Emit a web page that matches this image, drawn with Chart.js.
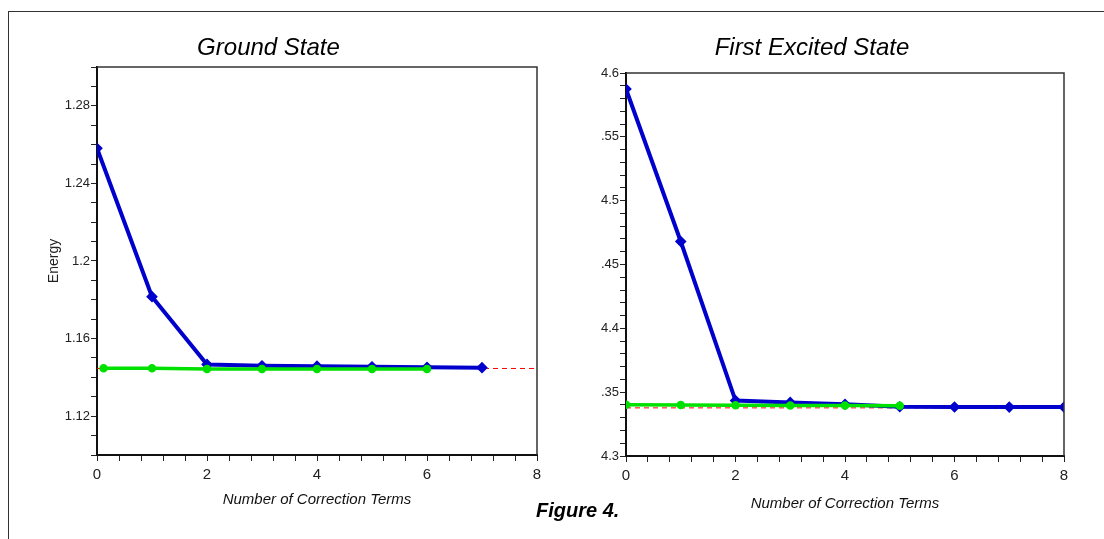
<!DOCTYPE html>
<html>
<head>
<meta charset="utf-8">
<script src="https://cdn.jsdelivr.net/npm/chart.js@4.4.1/dist/chart.umd.min.js"></script>
<style>
  body { margin: 0; background: #fff; width: 1104px; height: 539px; overflow: hidden; position: relative; }
  #frame { position: absolute; left: 8px; top: 11px; right: 0; bottom: 0; border-top: 1px solid #333; border-left: 1px solid #333; }
  #ground { position: absolute; left: 0; top: 0; }
  #excited { position: absolute; left: 560px; top: 0; }
  #caption { position: absolute; left: 536px; top: 499px; font: italic bold 20px 'Liberation Sans', Arial, sans-serif; color: #000; }
</style>
</head>
<body>
<div id="frame"></div>
<canvas id="ground" width="560" height="539"></canvas>
<canvas id="excited" width="544" height="539"></canvas>
<div id="caption">Figure 4.</div>
<script>
// ground state
var groundBlueX = [0, 1, 2, 3, 4, 5, 6, 7];
var groundBlueY = [1.2581, 1.1816, 1.1467, 1.1460, 1.1458, 1.1455, 1.1452, 1.1450];
var groundGreenX = [0.12, 1, 2, 3, 4, 5, 6];
var groundGreenY = [1.1447, 1.1447, 1.1443, 1.1443, 1.1443, 1.1443, 1.1443];
var groundRedX = [0, 8];
var groundRedY = [1.1446, 1.1446];

// first excited state
var excitedBlueX = [0, 1, 2, 3, 4, 5, 6, 7, 8];
var excitedBlueY = [4.5875, 4.468, 4.3434, 4.3420, 4.3405, 4.3386, 4.3384, 4.3383, 4.3383];
var excitedGreenX = [0, 1, 2, 3, 4, 5];
var excitedGreenY = [4.3402, 4.3400, 4.3398, 4.3396, 4.3395, 4.3394];
var excitedRedX = [0, 8];
var excitedRedY = [4.3377, 4.3377];

var xLabels = [0, 2, 4, 6, 8];
var groundYLabels = [1.12, 1.16, 1.2, 1.24, 1.28];
var excitedYLabels = { '4.3': '4.3', '4.35': '.35', '4.4': '4.4', '4.45': '.45', '4.5': '4.5', '4.55': '.55', '4.6': '4.6' };

var tickFont = "'Liberation Sans Narrow', 'Arial Narrow', 'Liberation Sans', Arial, sans-serif";
var textFont = "'Liberation Sans', Arial, sans-serif";

function toPoints(xs, ys) {
  var pts = [];
  for (var i = 0; i < xs.length; i++) {
    pts.push({ x: xs[i], y: ys[i] });
  }
  return pts;
}

// draws the top and right edges of the plot box
var boxPlugin = {
  id: 'box',
  afterDraw: function(chart) {
    var a = chart.chartArea;
    var ctx = chart.ctx;
    ctx.save();
    ctx.strokeStyle = '#333';
    ctx.lineWidth = 1.5;
    ctx.beginPath();
    ctx.moveTo(a.left, a.top);
    ctx.lineTo(a.right, a.top);
    ctx.lineTo(a.right, a.bottom);
    ctx.stroke();
    ctx.restore();
  }
};

function makeDatasets(blue, green, red) {
  return [
    {
      data: green,
      borderColor: 'rgb(0,225,0)',
      backgroundColor: 'rgb(0,215,0)',
      borderWidth: 3.5,
      pointRadius: 2.5,
      pointStyle: 'circle',
      order: 1
    },
    {
      data: blue,
      borderColor: 'rgb(0,0,205)',
      backgroundColor: 'rgb(0,0,205)',
      borderWidth: 4,
      pointRadius: 3,
      pointStyle: 'rectRot',
      order: 2
    },
    {
      data: red,
      borderColor: 'rgb(255,0,0)',
      borderWidth: 1,
      borderDash: [5, 4],
      pointRadius: 0,
      order: 3
    }
  ];
}

function xScale(height, titleBottom) {
  return {
    type: 'linear',
    min: 0,
    max: 8,
    afterFit: function(scale) { scale.height = height; },
    ticks: {
      stepSize: 0.4,
      autoSkip: false,
      maxRotation: 0,
      padding: 5,
      color: '#222',
      font: { family: tickFont, size: 15 },
      callback: function(v) {
        for (var i = 0; i < xLabels.length; i++) {
          if (Math.abs(v - xLabels[i]) < 1e-6) return String(xLabels[i]);
        }
        return '';
      }
    },
    grid: { drawOnChartArea: false, tickLength: 6, tickColor: '#222' },
    border: { color: '#111', width: 2 },
    title: {
      display: true,
      text: 'Number of Correction Terms',
      color: '#111',
      font: { family: textFont, size: 15, style: 'italic' },
      padding: { top: 0, bottom: titleBottom }
    }
  };
}

new Chart(document.getElementById('ground'), {
  type: 'line',
  data: {
    datasets: makeDatasets(
      toPoints(groundBlueX, groundBlueY),
      toPoints(groundGreenX, groundGreenY),
      toPoints(groundRedX, groundRedY)
    )
  },
  plugins: [boxPlugin],
  options: {
    responsive: false,
    animation: false,
    devicePixelRatio: 1,
    layout: { padding: { left: 0, right: 23, top: 0, bottom: 0 } },
    plugins: {
      legend: { display: false },
      tooltip: { enabled: false },
      title: {
        display: true,
        text: 'Ground State',
        color: '#000',
        font: { family: textFont, size: 24, style: 'italic', weight: 'normal' },
        padding: { top: 33.6, bottom: 4.6 }
      }
    },
    scales: {
      x: xScale(84, 30.4),
      y: {
        min: 1.1,
        max: 1.3,
        afterFit: function(scale) { scale.width = 97; },
        ticks: {
          stepSize: 0.01,
          autoSkip: false,
          padding: 1,
          color: '#222',
          font: { family: tickFont, size: 13 },
          callback: function(v) {
            for (var i = 0; i < groundYLabels.length; i++) {
              if (Math.abs(v - groundYLabels[i]) < 1e-6) return String(groundYLabels[i]);
            }
            return '';
          }
        },
        grid: { drawOnChartArea: false, tickLength: 6, tickColor: '#222' },
        border: { color: '#111', width: 2 },
        title: {
          display: true,
          text: 'Energy',
          color: '#222',
          font: { family: textFont, size: 14 },
          padding: { top: 46, bottom: 0 }
        }
      }
    }
  }
});

new Chart(document.getElementById('excited'), {
  type: 'line',
  data: {
    datasets: makeDatasets(
      toPoints(excitedBlueX, excitedBlueY),
      toPoints(excitedGreenX, excitedGreenY),
      toPoints(excitedRedX, excitedRedY)
    )
  },
  plugins: [boxPlugin],
  options: {
    responsive: false,
    animation: false,
    devicePixelRatio: 1,
    layout: { padding: { left: 0, right: 40, top: 0, bottom: 0 } },
    plugins: {
      legend: { display: false },
      tooltip: { enabled: false },
      title: {
        display: true,
        text: 'First Excited State',
        color: '#000',
        font: { family: textFont, size: 24, style: 'italic', weight: 'normal' },
        padding: { top: 33.6, bottom: 10.6 }
      }
    },
    scales: {
      x: xScale(83, 26.4),
      y: {
        min: 4.3,
        max: 4.6,
        afterFit: function(scale) { scale.width = 66; },
        ticks: {
          stepSize: 0.01,
          autoSkip: false,
          padding: 1,
          color: '#222',
          font: { family: tickFont, size: 13 },
          callback: function(v) {
            var key = String(Math.round(v * 100) / 100);
            return excitedYLabels[key] || '';
          }
        },
        grid: { drawOnChartArea: false, tickLength: 6, tickColor: '#222' },
        border: { color: '#111', width: 2 }
      }
    }
  }
});
</script>
</body>
</html>
